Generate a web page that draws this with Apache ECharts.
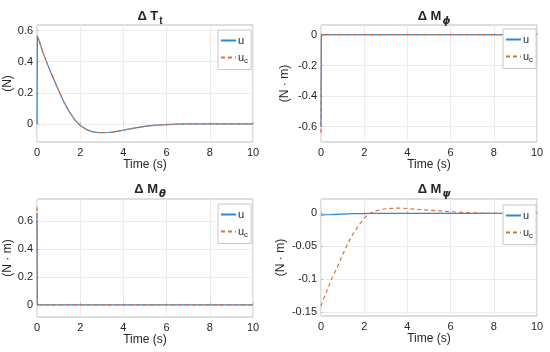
<!DOCTYPE html>
<html>
<head>
<meta charset="utf-8">
<script src="https://cdn.jsdelivr.net/npm/echarts@6/dist/echarts.min.js"></script>
<style>
html,body{margin:0;padding:0;background:#fff;}
#c{width:550px;height:352px;}
</style>
</head>
<body>
<div id="c"></div>
<script>
// ---- data ----
const time = [0, 0.02, 0.05, 0.1, 0.25, 0.5, 0.75, 1, 1.25, 1.5, 1.75, 2, 2.25, 2.5, 2.75, 3, 3.25, 3.5, 3.75, 4, 4.5, 5, 5.5, 6, 6.5, 7, 7.5, 8, 9, 10];

// Delta T_t
const thrustU  = [0, 0.563, 0.556, 0.535, 0.468, 0.378, 0.295, 0.215, 0.14, 0.077, 0.026, -0.01, -0.033, -0.048, -0.054, -0.056, -0.055, -0.052, -0.046, -0.04, -0.027, -0.016, -0.008, -0.004, -0.001, 0.001, 0.001, 0.001, 0, 0];
const thrustUc = [0.568, 0.563, 0.556, 0.535, 0.468, 0.378, 0.295, 0.215, 0.14, 0.077, 0.026, -0.01, -0.033, -0.048, -0.054, -0.056, -0.055, -0.052, -0.046, -0.04, -0.027, -0.016, -0.008, -0.004, -0.001, 0.001, 0.001, 0.001, 0, 0];

// Delta M_phi
const phiU  = [-0.6, 0.002, 0.002, 0.002, 0.002, 0.002, 0.002, 0.002, 0.002, 0.002, 0.002, 0.002, 0.002, 0.002, 0.002, 0.002, 0.002, 0.002, 0.002, 0.002, 0.002, 0.002, 0.002, 0.002, 0.002, 0.002, 0.002, 0.002, 0.002, 0.002];
const phiUc = [-0.64, 0.002, 0.002, 0.002, 0.002, 0.002, 0.002, 0.002, 0.002, 0.002, 0.002, 0.002, 0.002, 0.002, 0.002, 0.002, 0.002, 0.002, 0.002, 0.002, 0.002, 0.002, 0.002, 0.002, 0.002, 0.002, 0.002, 0.002, 0.002, 0.002];

// Delta M_theta
const thetaU  = [0.66, -0.002, -0.002, -0.002, -0.002, -0.002, -0.002, -0.002, -0.002, -0.002, -0.002, -0.002, -0.002, -0.002, -0.002, -0.002, -0.002, -0.002, -0.002, -0.002, -0.002, -0.002, -0.002, -0.002, -0.002, -0.002, -0.002, -0.002, -0.002, -0.002];
const thetaUc = [0.70, -0.002, -0.002, -0.002, -0.002, -0.002, -0.002, -0.002, -0.002, -0.002, -0.002, -0.002, -0.002, -0.002, -0.002, -0.002, -0.002, -0.002, -0.002, -0.002, -0.002, -0.002, -0.002, -0.002, -0.002, -0.002, -0.002, -0.002, -0.002, -0.002];

// Delta M_psi
const psiU  = [-0.0025, -0.0025, -0.0024, -0.0023, -0.002, -0.0017, -0.0013, -0.001, -0.0007, -0.0004, -0.0002, -0.0001, 0, 0, 0, 0, 0, 0, 0, 0, 0, 0, 0, 0, 0, 0, 0, 0, 0, 0];
const psiUc = [-0.141, -0.14, -0.138, -0.131, -0.12, -0.099, -0.082, -0.063, -0.045, -0.03, -0.018, -0.007, 0.0, 0.0035, 0.006, 0.0072, 0.0078, 0.008, 0.008, 0.0075, 0.0062, 0.005, 0.0038, 0.0027, 0.0017, 0.001, 0.0005, 0.0002, 0, 0];

const xTicks = [0, 2, 4, 6, 8, 10];
const yTicksT = [0, 0.2, 0.4, 0.6];
const yTicksPhi = [-0.6, -0.4, -0.2, 0];
const yTicksTheta = [0, 0.2, 0.4, 0.6];
const yTicksPsi = [-0.15, -0.1, -0.05, 0];

const titles = ['{a|Δ T}{s|t}', '{a|Δ M}{g|ϕ}', '{a|Δ M}{g|θ}', '{a|Δ M}{g|ψ}'];
const yNames = ['(N)', '(N · m)', '(N · m)', '(N · m)'];

// ---- layout ----
const FONT = "'Liberation Sans', Arial, Helvetica, sans-serif";
const TXT = '#262626';
const BLUE = '#2b8ad6';
const ORANGE = '#e2703f';

const grids = [
  {left: 37, top: 25, width: 216, height: 117},
  {left: 321, top: 25, width: 216, height: 117},
  {left: 37, top: 199, width: 216, height: 118},
  {left: 321, top: 199, width: 216, height: 117}
];
const yRanges = [[-0.116, 0.636], [-0.7, 0.065], [-0.089, 0.76], [-0.156, 0.022]];
const yTicks = [yTicksT, yTicksPhi, yTicksTheta, yTicksPsi];
const nameGaps = [18, 30, 21, 34];
const legendPos = [{left: 218, top: 30}, {left: 503, top: 29}, {left: 218, top: 204}, {left: 503, top: 205}];
const seriesData = [[thrustU, thrustUc], [phiU, phiUc], [thetaU, thetaUc], [psiU, psiUc]];

function fmt(v) {
  return String(Math.round(v * 1000) / 1000);
}

const option = {
  animation: false,
  backgroundColor: '#fff',
  textStyle: {fontFamily: FONT},
  title: grids.map((g, i) => ({
    text: titles[i],
    left: g.left + g.width / 2,
    top: i < 2 ? 2 : 175,
    textAlign: 'center',
    textStyle: {
      fontFamily: FONT,
      rich: {
        a: {fontSize: 13, fontWeight: 'bold', color: TXT, fontFamily: FONT},
        s: {fontSize: 10, fontWeight: 'bold', color: TXT, fontFamily: FONT, padding: [9, 0, 0, 1]},
        g: {fontSize: 10, fontWeight: 'bold', fontStyle: 'italic', color: TXT, fontFamily: "'DejaVu Sans'", padding: [9, 0, 0, 1]}
      }
    }
  })),
  grid: grids.map(g => Object.assign({show: true, borderColor: '#bdbdbd', borderWidth: 1, backgroundColor: '#fff'}, g)),
  legend: legendPos.map(p => ({
    left: p.left, top: p.top,
    orient: 'vertical',
    itemWidth: 15, itemHeight: 1, itemGap: 6,
    padding: [5, 3, 5, 2],
    borderColor: '#c8c8c8', borderWidth: 1, backgroundColor: '#fff',
    data: ['u', 'u_c'],
    formatter: n => n === 'u_c' ? 'u{s|c}' : 'u',
    textStyle: {
      fontSize: 11, color: TXT, fontFamily: FONT, padding: [0, 0, 0, -3],
      rich: {s: {fontSize: 8, color: TXT, fontFamily: FONT, padding: [6, 0, 0, 0]}}
    }
  })),
  xAxis: grids.map((g, i) => ({
    type: 'value', gridIndex: i, min: 0, max: 10, interval: 2,
    name: 'Time (s)', nameLocation: 'middle', nameGap: 16,
    nameTextStyle: {fontSize: 12, color: TXT, fontFamily: FONT},
    axisLine: {show: false},
    axisTick: {show: true, inside: true, length: 2, lineStyle: {color: '#bdbdbd'}},
    axisLabel: {fontSize: 11, color: TXT, fontFamily: FONT, margin: 5},
    splitLine: {show: true, lineStyle: {color: '#ececec', width: 1}}
  })),
  yAxis: grids.map((g, i) => ({
    type: 'value', gridIndex: i, min: yRanges[i][0], max: yRanges[i][1],
    name: yNames[i], nameLocation: 'middle', nameGap: nameGaps[i],
    nameTextStyle: {fontSize: 12, color: TXT, fontFamily: FONT},
    axisLine: {show: false},
    axisTick: {show: true, inside: true, length: 2, customValues: yTicks[i], lineStyle: {color: '#bdbdbd'}},
    axisLabel: {fontSize: 11, color: TXT, fontFamily: FONT, margin: 4, customValues: yTicks[i], formatter: fmt},
    splitLine: {show: true, lineStyle: {color: '#ececec', width: 1}}
  })),
  series: []
};

seriesData.forEach((pair, i) => {
  option.series.push({
    name: 'u', type: 'line', xAxisIndex: i, yAxisIndex: i, symbol: 'none',
    data: time.map((t, k) => [t, pair[0][k]]),
    lineStyle: {color: BLUE, width: 1.2}, itemStyle: {color: BLUE}, z: 2
  });
  option.series.push({
    name: 'u_c', type: 'line', xAxisIndex: i, yAxisIndex: i, symbol: 'none',
    data: time.map((t, k) => [t, pair[1][k]]),
    lineStyle: {color: ORANGE, width: 1.2, type: [4, 3]}, itemStyle: {color: ORANGE}, z: 3
  });
});

const chart = echarts.init(document.getElementById('c'), null, {renderer: 'canvas'});
chart.setOption(option);
</script>
</body>
</html>
